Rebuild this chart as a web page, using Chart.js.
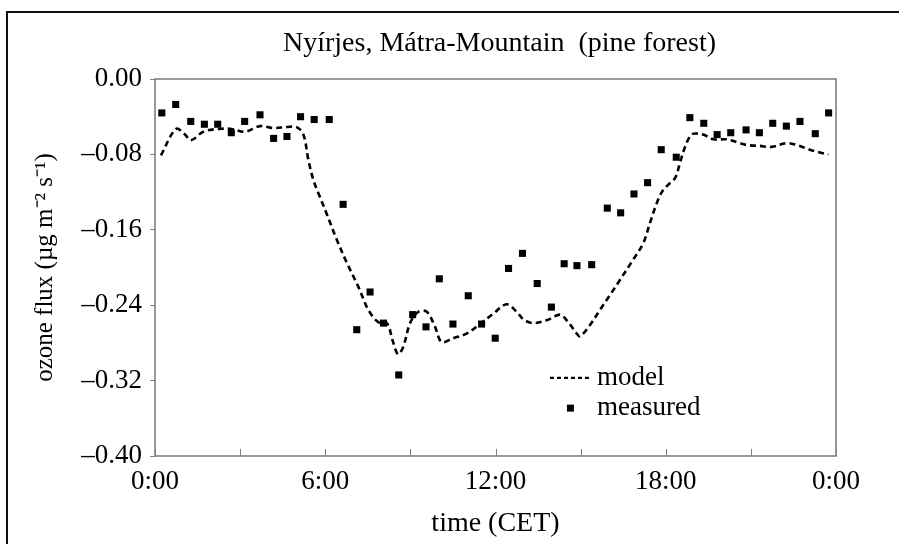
<!DOCTYPE html>
<html>
<head>
<meta charset="utf-8">
<script src="https://cdn.jsdelivr.net/npm/chart.js@4.4.1/dist/chart.umd.min.js"></script>
<style>
  html, body { margin: 0; padding: 0; background: #fff; }
  #wrap { width: 899px; height: 544px; position: relative; }
</style>
</head>
<body>
<div id="wrap"><canvas id="fluxChart" width="899" height="544"></canvas></div>
<script>
// measured ozone flux (hours after midnight, CET)
const measuredHours = [0.24, 0.73, 1.26, 1.74, 2.21, 2.69, 3.16, 3.70, 4.18, 4.65, 5.13, 5.61, 6.14, 6.63,
  7.11, 7.58, 8.05, 8.59, 9.08, 9.55, 10.02, 10.50, 11.04, 11.51, 11.99, 12.46, 12.95, 13.47, 13.97,
  14.42, 14.87, 15.39, 15.94, 16.41, 16.88, 17.36, 17.84, 18.37, 18.85, 19.34, 19.81, 20.29, 20.83,
  21.30, 21.77, 22.25, 22.73, 23.27, 23.74];
const measuredFlux = [-0.036, -0.027, -0.045, -0.048, -0.048, -0.057, -0.045, -0.038, -0.063, -0.061, -0.040, -0.043, -0.043, -0.133,
  -0.266, -0.226, -0.259, -0.314, -0.250, -0.263, -0.212, -0.260, -0.230, -0.260, -0.275, -0.201, -0.185, -0.217, -0.242,
  -0.196, -0.198, -0.197, -0.137, -0.142, -0.122, -0.110, -0.075, -0.083, -0.041, -0.047, -0.059, -0.057, -0.054,
  -0.057, -0.047, -0.050, -0.045, -0.058, -0.036];

// model curve
const modelHours = [0.21, 0.74, 1.06, 1.27, 1.70, 2.21, 2.70, 3.17, 3.70, 4.17, 4.64, 4.99, 5.23, 5.40, 5.56, 5.70, 5.81,
  6.05, 6.40, 6.76, 7.16, 7.52, 7.87, 8.17, 8.40, 8.57, 8.75, 8.99, 9.28, 9.58, 9.87, 10.10, 10.51, 10.99, 11.45,
  11.92, 12.39, 12.75, 12.98, 13.33, 13.80, 14.27, 14.51, 14.86, 14.98, 15.33, 15.68, 16.04, 16.39, 16.80, 17.21,
  17.44, 17.68, 17.86, 18.09, 18.33, 18.50, 18.68, 18.85, 18.97, 19.32, 19.68, 20.15, 20.50, 20.85, 21.32, 21.73,
  22.26, 22.61, 23.08, 23.43, 23.73];
const modelFlux = [-0.081, -0.053, -0.059, -0.065, -0.056, -0.053, -0.053, -0.056, -0.050, -0.052, -0.051, -0.051, -0.059, -0.085, -0.105, -0.117, -0.125,
  -0.143, -0.170, -0.195, -0.220, -0.245, -0.258, -0.259, -0.280, -0.292, -0.284, -0.259, -0.247, -0.247, -0.263, -0.279, -0.275, -0.270, -0.260,
  -0.249, -0.239, -0.247, -0.255, -0.259, -0.256, -0.250, -0.256, -0.270, -0.273, -0.261, -0.245, -0.229, -0.213, -0.194, -0.174,
  -0.153, -0.132, -0.120, -0.112, -0.105, -0.089, -0.072, -0.061, -0.058, -0.059, -0.064, -0.064, -0.067, -0.070, -0.071, -0.072,
  -0.068, -0.070, -0.075, -0.078, -0.080];

const xTickHours = [0, 6, 12, 18, 24];
const xTickLabels = ['0:00', '6:00', '12:00', '18:00', '0:00'];
const legendLabels = ['model', 'measured'];
const chartTitle = 'Nyírjes, Mátra-Mountain  (pine forest)';

const serif = 'Liberation Serif';
const axisGray = '#808080';

function yLabel(value) {
  const v = Math.round(value * 100) / 100;
  if (v === 0) return '0.00';
  return '\u2013' + Math.abs(v).toFixed(2);
}

// frame, title, plot box, inward x ticks and legend
const decorations = {
  id: 'decorations',
  beforeDraw(chart) {
    const c = chart.ctx;
    const a = chart.chartArea;
    c.save();
    c.fillStyle = '#fff';
    c.fillRect(0, 0, chart.width, chart.height);
    c.strokeStyle = '#111';
    c.lineWidth = 2;
    c.beginPath();
    c.moveTo(7, chart.height);
    c.lineTo(7, 12);
    c.lineTo(chart.width, 12);
    c.stroke();
    c.fillStyle = '#000';
    c.font = '28px "' + serif + '"';
    c.textAlign = 'center';
    c.textBaseline = 'middle';
    c.fillText(chartTitle, (a.left + a.right) / 2 + 4, a.top - 35);
    c.restore();
  },
  afterDraw(chart) {
    const c = chart.ctx;
    const a = chart.chartArea;
    const xs = chart.scales.x;
    c.save();
    c.strokeStyle = axisGray;
    c.lineWidth = 1.6;
    c.strokeRect(a.left, a.top, a.right - a.left, a.bottom - a.top);
    c.beginPath();
    xs.ticks.forEach(t => {
      const px = Math.round(xs.getPixelForValue(t.value)) + 0.5;
      c.moveTo(px, a.bottom);
      c.lineTo(px, a.bottom - 7);
    });
    c.lineWidth = 1;
    c.stroke();

    // legend inside the plot
    const w = a.right - a.left, h = a.bottom - a.top;
    const lx0 = a.left + w * 0.58, lx1 = a.left + w * 0.64, tx = a.left + w * 0.649;
    const y1 = a.top + h * 0.793, y2 = a.top + h * 0.873;
    c.strokeStyle = '#000';
    c.lineWidth = 2.2;
    c.setLineDash([4, 3]);
    c.beginPath();
    c.moveTo(lx0, y1);
    c.lineTo(lx1, y1);
    c.stroke();
    c.setLineDash([]);
    c.fillStyle = '#000';
    c.fillRect((lx0 + lx1) / 2 - 3.5, y2 - 3.5, 7, 7);
    c.font = '27px "' + serif + '"';
    c.textBaseline = 'middle';
    c.textAlign = 'left';
    c.fillText(legendLabels[0], tx, y1);
    c.fillText(legendLabels[1], tx, y2);
    c.restore();
  }
};

new Chart(document.getElementById('fluxChart'), {
  type: 'scatter',
  data: {
    datasets: [{
      label: legendLabels[0],
      type: 'line',
      data: modelHours.map((h, i) => ({ x: h, y: modelFlux[i] })),
      borderColor: '#000',
      borderWidth: 2.6,
      borderDash: [6, 4],
      pointRadius: 0,
      tension: 0.35,
      fill: false
    }, {
      label: legendLabels[1],
      data: measuredHours.map((h, i) => ({ x: h, y: measuredFlux[i] })),
      backgroundColor: '#000',
      borderWidth: 0,
      pointStyle: 'rect',
      pointRadius: 5
    }]
  },
  options: {
    responsive: false,
    animation: false,
    layout: { padding: { left: 0, right: 63, top: 79, bottom: 0 } },
    plugins: {
      legend: { display: false },
      tooltip: { enabled: false },
      title: { display: false }
    },
    scales: {
      x: {
        type: 'linear',
        min: 0,
        max: 24,
        afterFit: s => { s.height = 88; },
        grid: { display: false, drawTicks: false },
        border: { display: false },
        ticks: {
          stepSize: 3,
          padding: 10,
          color: '#000',
          font: { family: serif, size: 27 },
          maxRotation: 0,
          autoSkip: false,
          callback: v => {
            const i = xTickHours.indexOf(v);
            return i >= 0 ? xTickLabels[i] : '';
          }
        },
        title: {
          display: true,
          text: 'time (CET)',
          color: '#000',
          font: { family: serif, size: 28 },
          padding: { top: 0, bottom: 4 }
        }
      },
      y: {
        min: -0.4,
        max: 0,
        afterFit: s => { s.width = 155; },
        grid: { drawOnChartArea: false, drawTicks: true, tickLength: 5, color: axisGray },
        border: { display: false },
        ticks: {
          stepSize: 0.08,
          padding: 8,
          color: '#000',
          font: { family: serif, size: 27 },
          callback: yLabel
        },
        title: {
          display: true,
          text: 'ozone flux (µg m⁻² s⁻¹)',
          color: '#000',
          font: { family: serif, size: 25 },
          padding: { top: 30, bottom: 0 }
        }
      }
    }
  },
  plugins: [decorations]
});
</script>
</body>
</html>
